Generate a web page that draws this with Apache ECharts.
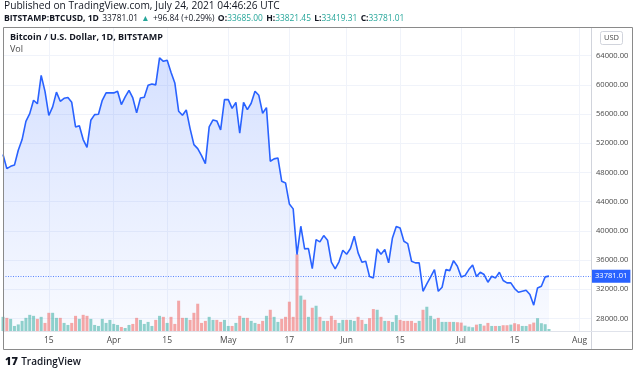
<!DOCTYPE html>
<html><head><meta charset="utf-8">
<script src="https://cdn.jsdelivr.net/npm/echarts@6/dist/echarts.min.js"></script>
<style>html,body{margin:0;padding:0;background:#fff}#c{width:640px;height:372px}</style>
</head><body><div id="c"></div>
<script>
// ---- data ----
const startDate = '2021-03-03';
const axisEndDate = '2021-08-04';
const prices = [
50440,48520,48830,49000,51030,52500,55000,56050,57880,57400,
61300,59100,55800,56970,59000,57740,58150,58250,57600,54230,
54400,52500,51440,55140,55920,55960,57880,58890,58890,58890,
59110,57290,58340,59250,58200,56150,58200,58300,59930,60120,
59990,63680,63220,63360,61720,60260,56380,55830,56560,54000,
51810,51260,50300,49200,54230,55190,55050,53820,57970,57970,
56780,57600,53360,57600,56600,57470,59110,58560,56100,56880,
49520,49850,49980,46780,46560,43680,43000,36740,40620,37520,
37560,34820,38790,38480,39340,38700,35690,34780,35740,37330,
36790,37560,39250,36970,35690,35820,33720,33540,37520,36790,
37420,35600,39020,40600,40390,38560,38240,35820,35600,35600,
31710,32720,33680,34680,31710,32260,34680,34540,35910,35130,
33680,33860,34680,35320,33720,34310,34000,32950,33770,33540,
34310,33180,32860,32860,32080,31570,31710,31850,31260,29800,
32170,32400,33680,33781.01];
// daily volume, thousand BTC
const volumes = [
14,13,12,5,6.5,10,13,16,15,12,14,8,18,18,13,13,8,6,8,15,
12,16,15,12,6,5,12,8,11,7,6,4,3,6,7,13,11,7,9,5,
11,15,14,8,14,7,30,13,13,11,18,27,8,10,14,11,11,9,11,5,
5,8,15,13,13,10,8,7,10,15,21,14,9,12,
14,29,14,76,35,31,14,23,25,14,10,10,15,11,8,11,11,11,10,14,
11,7,12.7,21.7,21,14,10,10,9,15.7,11,10,10,10,8,10,21,24,15,11.7,
13,9,9,9,9,8.7,8.3,5.3,4.3,3.7,6.3,7,5.3,8,5,5,5,5.7,5.7,6.3,
7.7,6.7,5,5,6.7,8.3,12.7,7.7,6.7,2];
const xTicks = [['2021-03-15','15'],['2021-04-01','Apr'],['2021-04-15','15'],['2021-05-01','May'],
['2021-05-17','17'],['2021-06-01','Jun'],['2021-06-15','15'],['2021-07-01','Jul'],['2021-07-15','15'],['2021-08-01','Aug']];
const priceTicks = [28000,32000,36000,40000,44000,48000,52000,56000,60000,64000];
const lastPrice = 33781.01;

// ---- build ----
const dates = [];
for (let t = Date.parse(startDate+'T00:00:00Z'); t <= Date.parse(axisEndDate+'T00:00:00Z'); t += 86400000) {
  dates.push(new Date(t).toISOString().slice(0,10));
}
const tickMap = Object.fromEntries(xTicks);
const isTick = (i, v) => tickMap[v] !== undefined;
const UP = 'rgba(38,166,154,0.5)', DOWN = 'rgba(239,83,80,0.5)';
const volData = volumes.map((v, i) => ({
  value: v * 1000,
  itemStyle: { color: (i === 0 || prices[i] >= prices[i-1]) ? UP : DOWN }
}));
const FONT = '"Open Sans", "Liberation Sans", sans-serif';
const TXT = '#131722';
const BLUE = '#2962ff';

const chart = echarts.init(document.getElementById('c'), null, {renderer: 'canvas'});
chart.setOption({
  animation: false,
  backgroundColor: '#fff',
  textStyle: { fontFamily: FONT },
  grid: { left: 3, right: 49, top: 28, bottom: 41 },
  xAxis: {
    type: 'category', data: dates, boundaryGap: false,
    axisLine: { lineStyle: { color: '#e0e3eb' } },
    axisTick: { show: false },
    axisLabel: { interval: isTick, formatter: v => tickMap[v] || '', color: '#4a4a4a', fontSize: 8.5, margin: 5, fontFamily: FONT },
    splitLine: { show: true, interval: isTick, lineStyle: { color: '#f0f3fa' } }
  },
  yAxis: [{
    type: 'value', position: 'right', min: 26265, max: 67784,
    axisLine: { show: true, lineStyle: { color: '#d1d4dc' } },
    axisTick: { show: false, customValues: priceTicks },
    axisLabel: { customValues: priceTicks, formatter: v => v.toFixed(2), color: '#4a4a4a', fontSize: 7.6, margin: 5, fontFamily: FONT },
    splitLine: { show: true, lineStyle: { color: '#f0f3fa' } }
  }, {
    type: 'value', min: 0, max: 300000, show: false, splitLine: { show: false }
  }],
  series: [{
    type: 'line', data: prices, yAxisIndex: 0, symbol: 'none', z: 1,
    lineStyle: { width: 0 },
    areaStyle: { origin: 'start', color: new echarts.graphic.LinearGradient(0,0,0,1,[
      {offset:0, color:'rgba(41,98,255,0.28)'},{offset:1, color:'rgba(41,98,255,0.04)'}]) }
  }, {
    type: 'bar', data: volData, yAxisIndex: 1, barWidth: 3, z: 2
  }, {
    type: 'line', data: prices, yAxisIndex: 0, symbol: 'none', z: 3,
    color: BLUE,
    lineStyle: { color: BLUE, width: 1.6 },
    markLine: {
      silent: true, symbol: ['none', 'none'],
      data: [{ yAxis: lastPrice, lineStyle: { color: 'rgba(41,98,255,0.75)', type: [1, 1.5], width: 1 } }],
      lineStyle: { type: [1, 1.5], color: 'rgba(41,98,255,0.75)', width: 1 },
      label: { position: 'end', distance: 1, formatter: lastPrice.toFixed(2), backgroundColor: BLUE,
        color: '#fff', padding: [3, 3, 2, 3], fontSize: 7.6, fontFamily: FONT }
    }
  }],
  graphic: [
    { type: 'text', left: 4, top: 1, style: { text: 'Published on TradingView.com, July 24, 2021 04:46:26 UTC', fill: TXT, font: '10.2px ' + FONT } },
    { type: 'text', left: 4, top: 13, style: {
      text: '{b|BITSTAMP:BTCUSD, 1D} {n|33781.01} {g|▲} {n|+96.84 (+0.29%)} {b|O:}{g|33685.00} {b|H:}{g|33821.45} {b|L:}{g|33419.31} {b|C:}{g|33781.01}',
      rich: {
        b: { fontWeight: 'bold', fontSize: 8.6, fill: TXT, fontFamily: FONT },
        n: { fontSize: 8.4, fill: TXT, fontFamily: FONT },
        g: { fontSize: 8.4, fill: '#26a69a', fontFamily: FONT }
      } } },
    { type: 'rect', shape: { x: 3.5, y: 27.5, width: 629, height: 322 }, style: { fill: 'none', stroke: '#8a8a8a', lineWidth: 1 }, z: 10 },
    { type: 'line', shape: { x1: 591.5, y1: 28, x2: 591.5, y2: 349 }, style: { stroke: '#d1d4dc', lineWidth: 1 }, z: 10 },
    { type: 'line', shape: { x1: 4, y1: 331.5, x2: 632, y2: 331.5 }, style: { stroke: '#e0e3eb', lineWidth: 1 }, z: 10 },
    { type: 'text', left: 10, top: 33, style: { text: 'Bitcoin / U.S. Dollar, 1D, BITSTAMP', fill: TXT, font: 'bold 9px ' + FONT }, z: 10 },
    { type: 'text', left: 10, top: 45, style: { text: 'Vol', fill: '#4a4a4a', font: '9px ' + FONT }, z: 10 },
    { type: 'group', left: 600, top: 31, z: 10, children: [
      { type: 'rect', shape: { x: 0.5, y: 0.5, width: 22, height: 13, r: 2 }, style: { fill: '#fff', stroke: '#d1d4dc' } },
      { type: 'text', x: 11.5, y: 7, style: { text: 'USD', fill: '#4a4a4a', font: '7.5px ' + FONT, align: 'center', verticalAlign: 'middle' } }
    ] },
    { type: 'text', left: 5, top: 356, style: { text: '{l|17} {t|TradingView}', rich: {
      l: { fontWeight: 900, fontSize: 11, fill: TXT, fontFamily: FONT },
      t: { fontWeight: 600, fontSize: 10, fill: TXT, fontFamily: FONT } } } }
  ]
});
</script></body></html>
